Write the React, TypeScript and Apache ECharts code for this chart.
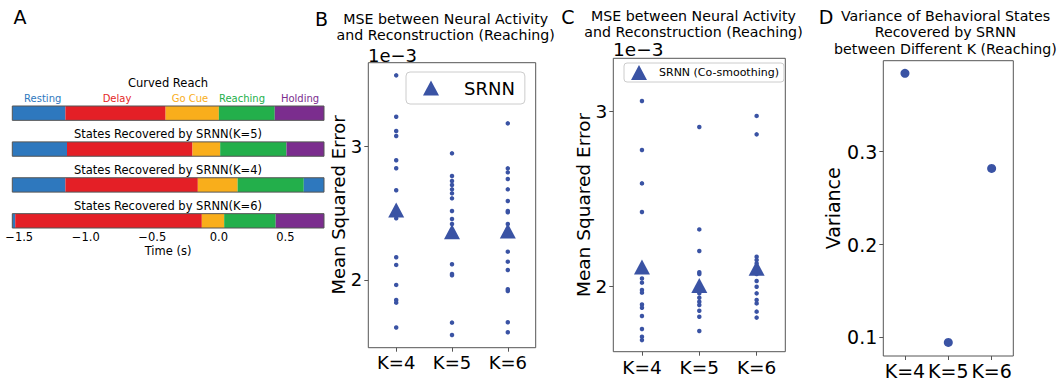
import React, { useEffect, useRef } from "react";
import * as echarts from "echarts";

// ---------- Panel A data ----------
const stateNames = ["Resting", "Delay", "Go Cue", "Reaching", "Holding"];
const rowTitles = [
  "Curved Reach",
  "States Recovered by SRNN(K=5)",
  "States Recovered by SRNN(K=4)",
  "States Recovered by SRNN(K=6)",
];
const timeMin = -1.552;
const timeMax = 0.79;
const rowBoundaries = [
  [-1.552, -1.153, -0.4, 0.0, 0.42, 0.79],
  [-1.552, -1.141, -0.198, 0.01, 0.508, 0.79],
  [-1.552, -1.153, -0.158, 0.141, 0.638, 0.79],
  [-1.552, -1.53, -0.128, 0.04, 0.427, 0.79],
];
const rowStates = [
  [0, 1, 2, 3, 4],
  [0, 1, 2, 3, 4],
  [0, 1, 2, 3, 0],
  [0, 1, 2, 3, 4],
];
const timeTicks = [-1.5, -1.0, -0.5, 0.0, 0.5];

// ---------- Panel B data (units of 1e-3) ----------
const kCategories = ["K=4", "K=5", "K=6"];
const mseB_K4 = [3.535, 3.225, 3.118, 3.08, 2.898, 2.838, 2.673, 2.4625, 2.17, 2.113, 1.963, 1.85, 1.83, 1.643];
const mseB_K5 = [2.95, 2.78, 2.7425, 2.7125, 2.68, 2.65, 2.6125, 2.5175, 2.4575, 2.42, 2.1175, 2.045, 2.035, 1.68, 1.5875];
const mseB_K6 = [3.175, 2.8375, 2.8075, 2.7575, 2.68, 2.5925, 2.5175, 2.5075, 2.42, 2.2125, 2.1375, 2.075, 1.93, 1.9175, 1.6825, 1.6075];
const meanB = [2.525, 2.3625, 2.3675];
const ticksB = [2, 3];

// ---------- Panel C data (units of 1e-3) ----------
const mseC_K4 = [3.057, 2.778, 2.588, 2.425, 2.047, 2.023, 1.981, 1.966, 1.899, 1.88, 1.833, 1.759, 1.715, 1.696];
const mseC_K5 = [2.909, 2.326, 2.203, 2.082, 2.072, 1.962, 1.937, 1.914, 1.896, 1.863, 1.829, 1.748];
const mseC_K6 = [2.972, 2.867, 2.171, 2.152, 2.133, 2.072, 2.032, 2.0, 1.962, 1.924, 1.905, 1.858, 1.824];
const meanC = [2.112, 2.007, 2.105];
const ticksC = [2, 3];

// ---------- Panel D data ----------
const varianceD = [0.3844, 0.0946, 0.282];
const ticksD = [0.1, 0.2, 0.3];

const FONT = "DejaVu Sans";
const stateColors = ["#2E78BE", "#E41F26", "#F9AE1B", "#23AF4B", "#7B2D8E"];
const MARK = "#3A53A4";
const FRAME = "#555555";

function toPoints(groups: number[][]) {
  const out: number[][] = [];
  groups.forEach((g, i) => g.forEach((v) => out.push([i, v])));
  return out;
}

export default function App() {
  const ref = useRef<HTMLDivElement>(null);

  useEffect(() => {
    document.body.style.margin = "0";
    if (!ref.current) return;
    const chart = echarts.init(ref.current, null, { renderer: "svg" });

    const segData: any[] = [];
    rowBoundaries.forEach((b, r) => {
      for (let j = 0; j < b.length - 1; j++) {
        segData.push({ value: [b[j], b[j + 1], r, rowStates[r][j]] });
      }
    });
    const frameData = rowTitles.map((_, r) => [timeMin, timeMax, r]);
    const BAR_H = 0.4;

    const txt = (text: string, x: number, y: number, size: number, extra: any = {}) => ({
      type: "text",
      x,
      y,
      silent: true,
      style: {
        text,
        fontFamily: FONT,
        fontSize: size,
        fill: extra.fill || "#000",
        textAlign: extra.align || "center",
        textVerticalAlign: "middle",
      },
      rotation: extra.rotation || 0,
    });

    const phaseLabelX = [42.7, 117, 190, 242, 300];

    const graphics: any[] = [
      txt("A", 20, 17, 19),
      txt("B", 321.5, 19, 19),
      txt("C", 568, 17, 19),
      txt("D", 826, 17, 19),
      txt(rowTitles[0], 168, 83, 11.5),
      txt(rowTitles[1], 168, 134, 11.5),
      txt(rowTitles[2], 168, 170, 11.5),
      txt(rowTitles[3], 168, 206, 11.5),
      ...stateNames.map((n, i) => txt(n, phaseLabelX[i], 98, 10, { fill: stateColors[i] })),
      txt("Time (s)", 168, 251, 11.5),
      txt("MSE between Neural Activity", 445.7, 18.5, 14.2),
      txt("and Reconstruction (Reaching)", 445.7, 34.5, 14.2),
      txt("1e\u22123", 368, 55, 18, { align: "left" }),
      txt("Mean Squared Error", 338.3, 205, 18, { rotation: Math.PI / 2 }),
      txt("MSE between Neural Activity", 693.5, 15.5, 14.2),
      txt("and Reconstruction (Reaching)", 693.5, 31.7, 14.2),
      txt("1e\u22123", 613, 49.3, 18.5, { align: "left" }),
      txt("Mean Squared Error", 583.5, 205, 18.5, { rotation: Math.PI / 2 }),
      txt("Variance of Behavioral States", 945.5, 15.7, 14.2),
      txt("Recovered by SRNN", 945.5, 32.3, 14.2),
      txt("between Different K (Reaching)", 945.5, 49.3, 14.2),
      txt("Variance", 833.3, 208.3, 19, { rotation: Math.PI / 2 }),
    ];

    const catX = (idx: number, size: number, margin: number) => ({
      type: "category",
      gridIndex: idx,
      data: kCategories,
      boundaryGap: true,
      axisLine: { show: false },
      axisTick: { show: true, alignWithLabel: true, length: 4, lineStyle: { color: FRAME } },
      axisLabel: { fontFamily: FONT, fontSize: size, color: "#000", margin, interval: 0 },
      splitLine: { show: false },
    });
    const valY = (idx: number, min: number, max: number, ticks: number[], size: number, fmt: (v: number) => string) => ({
      type: "value",
      gridIndex: idx,
      min,
      max,
      axisLine: { show: false },
      axisTick: { show: true, length: 4, customValues: ticks, lineStyle: { color: FRAME } },
      axisLabel: { fontFamily: FONT, fontSize: size, color: "#000", margin: 6, customValues: ticks, formatter: fmt },
      splitLine: { show: false },
    });

    const gridCommon = { show: true, borderColor: FRAME, borderWidth: 1, backgroundColor: "transparent", containLabel: false, outerBoundsMode: "none" };

    const option: any = {
      animation: false,
      textStyle: { fontFamily: FONT },
      grid: [
        { left: 12.3, top: 106, width: 311.7, height: 122, show: false, containLabel: false, outerBoundsMode: "none" },
        { ...gridCommon, left: 368.3, top: 62.7, width: 167.4, height: 285 },
        { ...gridCommon, left: 613.3, top: 58.3, width: 172, height: 293.4 },
        { ...gridCommon, left: 883.3, top: 60.7, width: 130, height: 295.3 },
      ],
      xAxis: [
        {
          type: "value",
          gridIndex: 0,
          min: timeMin,
          max: timeMax,
          axisLine: { show: false },
          axisTick: { show: true, length: 3.5, customValues: timeTicks, lineStyle: { color: FRAME } },
          axisLabel: {
            fontFamily: FONT,
            fontSize: 11.5,
            color: "#000",
            margin: 3,
            customValues: timeTicks,
            formatter: (v: number) => (v < 0 ? "\u2212" : "") + Math.abs(v).toFixed(1),
          },
          splitLine: { show: false },
        },
        catX(1, 18, 6),
        catX(2, 18.5, 6),
        catX(3, 19, 5),
      ],
      yAxis: [
        { type: "value", gridIndex: 0, min: -0.2, max: 3.2, inverse: true, show: false, splitLine: { show: false } },
        valY(1, 1.492, 3.63, ticksB, 18, (v) => String(Math.round(v))),
        valY(2, 1.63, 3.3, ticksC, 18.5, (v) => String(Math.round(v))),
        valY(3, 0.08, 0.398, ticksD, 19, (v) => v.toFixed(1)),
      ],
      legend: [
        {
          data: ["SRNN"],
          left: 406,
          top: 72,
          orient: "vertical",
          icon: "triangle",
          itemWidth: 16,
          itemHeight: 15,
          padding: [7, 10, 7, 17],
          backgroundColor: "rgba(255,255,255,0.8)",
          borderColor: "#cccccc",
          borderWidth: 1,
          borderRadius: 4,
          selectedMode: false,
          textStyle: { fontFamily: FONT, fontSize: 18, color: "#000", padding: [0, 0, 0, 20] },
        },
        {
          data: ["SRNN (Co-smoothing)"],
          left: 624,
          top: 63,
          orient: "vertical",
          icon: "triangle",
          itemWidth: 16,
          itemHeight: 15,
          padding: [2, 5, 2, 7],
          backgroundColor: "rgba(255,255,255,0.8)",
          borderColor: "#cccccc",
          borderWidth: 1,
          borderRadius: 3,
          selectedMode: false,
          textStyle: { fontFamily: FONT, fontSize: 11, color: "#000", padding: [0, 0, 0, 7] },
        },
      ],
      series: [
        {
          type: "custom",
          name: "states",
          xAxisIndex: 0,
          yAxisIndex: 0,
          data: segData,
          renderItem: (params: any, api: any) => {
            const p0 = api.coord([api.value(0), api.value(2)]);
            const p1 = api.coord([api.value(1), api.value(2)]);
            const h = Math.abs(api.size([0, BAR_H])[1]);
            return {
              type: "rect",
              shape: { x: p0[0], y: p0[1] - h / 2, width: p1[0] - p0[0], height: h },
              style: { fill: stateColors[api.value(3)] },
            };
          },
        },
        {
          type: "custom",
          name: "frames",
          xAxisIndex: 0,
          yAxisIndex: 0,
          data: frameData,
          z: 3,
          renderItem: (params: any, api: any) => {
            const p0 = api.coord([api.value(0), api.value(2)]);
            const p1 = api.coord([api.value(1), api.value(2)]);
            const h = Math.abs(api.size([0, BAR_H])[1]);
            return {
              type: "rect",
              shape: { x: p0[0], y: p0[1] - h / 2, width: p1[0] - p0[0], height: h },
              style: { fill: "none", stroke: FRAME, lineWidth: 1 },
            };
          },
        },
        {
          type: "scatter",
          name: "B points",
          xAxisIndex: 1,
          yAxisIndex: 1,
          symbol: "circle",
          symbolSize: 4.5,
          itemStyle: { color: MARK, opacity: 1 },
          data: toPoints([mseB_K4, mseB_K5, mseB_K6]),
        },
        {
          type: "scatter",
          name: "SRNN",
          xAxisIndex: 1,
          yAxisIndex: 1,
          symbol: "triangle",
          symbolSize: [16, 15],
          z: 5,
          itemStyle: { color: MARK, opacity: 1 },
          data: meanB.map((v, i) => [i, v]),
        },
        {
          type: "scatter",
          name: "C points",
          xAxisIndex: 2,
          yAxisIndex: 2,
          symbol: "circle",
          symbolSize: 4.5,
          itemStyle: { color: MARK, opacity: 1 },
          data: toPoints([mseC_K4, mseC_K5, mseC_K6]),
        },
        {
          type: "scatter",
          name: "SRNN (Co-smoothing)",
          xAxisIndex: 2,
          yAxisIndex: 2,
          symbol: "triangle",
          symbolSize: [16, 15],
          z: 5,
          itemStyle: { color: MARK, opacity: 1 },
          data: meanC.map((v, i) => [i, v]),
        },
        {
          type: "scatter",
          name: "Variance",
          xAxisIndex: 3,
          yAxisIndex: 3,
          symbol: "circle",
          symbolSize: 9,
          itemStyle: { color: MARK, opacity: 1 },
          data: varianceD.map((v, i) => [i, v]),
        },
      ],
      graphic: graphics,
    };

    chart.setOption(option);
    return () => chart.dispose();
  }, []);

  return <div ref={ref} style={{ width: 1062, height: 384 }} />;
}
